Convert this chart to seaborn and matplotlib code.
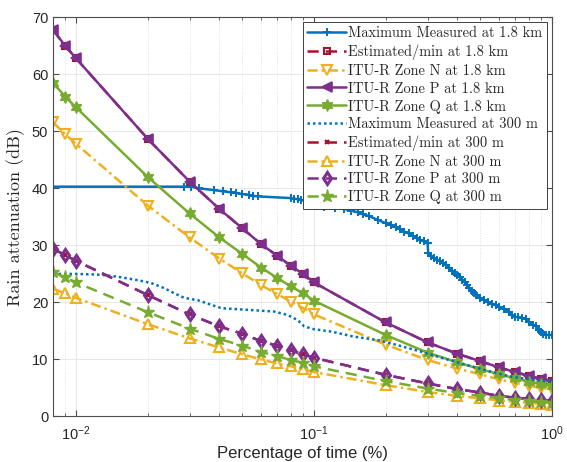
import numpy as np
import pandas as pd
import matplotlib
matplotlib.use("Agg")
import matplotlib.pyplot as plt
import seaborn as sns

# Percentage of time at which the ITU-R / estimated curves are evaluated
p_itu = [0.008, 0.009, 0.01, 0.02, 0.03, 0.04, 0.05, 0.06, 0.07, 0.08, 0.09,
         0.1, 0.2, 0.3, 0.4, 0.5, 0.6, 0.7, 0.8, 0.9, 1.0]

# 1.8 km link (dB)
est_18 = [67.8, 65.0, 62.8, 48.7, 41.2, 36.4, 33.0, 30.2, 28.2, 26.4, 25.0,
          23.5, 16.5, 13.0, 11.0, 9.7, 8.6, 7.8, 7.1, 6.6, 6.3]
zone_n_18 = [51.6, 49.5, 47.8, 37.0, 31.4, 27.7, 25.1, 23.0, 21.5, 20.1, 19.0,
             17.9, 12.6, 9.9, 8.4, 7.4, 6.5, 5.9, 5.4, 5.0, 4.8]
zone_p_18 = [67.8, 65.0, 62.8, 48.7, 41.2, 36.4, 33.0, 30.2, 28.2, 26.4, 25.0,
             23.5, 16.5, 13.0, 11.0, 9.7, 8.6, 7.8, 7.1, 6.6, 6.3]
zone_q_18 = [58.5, 56.1, 54.2, 42.0, 35.6, 31.4, 28.5, 26.1, 24.3, 22.8, 21.6,
             20.3, 14.3, 11.2, 9.5, 8.3, 7.4, 6.7, 6.1, 5.7, 5.4]

# 300 m link (dB)
est_300 = [29.4, 28.3, 27.3, 21.3, 17.9, 15.8, 14.5, 13.2, 12.4, 11.6, 10.9,
           10.3, 7.3, 5.8, 4.8, 4.2, 3.6, 3.3, 3.1, 2.9, 2.8]
zone_n_300 = [22.4, 21.6, 20.8, 16.2, 13.7, 12.1, 10.9, 10.0, 9.3, 8.8, 8.3,
              7.8, 5.5, 4.3, 3.6, 3.2, 2.8, 2.6, 2.4, 2.2, 2.1]
zone_p_300 = [29.4, 28.3, 27.3, 21.3, 17.9, 15.8, 14.5, 13.2, 12.4, 11.6, 10.9,
              10.3, 7.3, 5.8, 4.8, 4.2, 3.6, 3.3, 3.1, 2.9, 2.8]
zone_q_300 = [25.3, 24.4, 23.5, 18.3, 15.4, 13.6, 12.4, 11.3, 10.6, 9.9, 9.4,
              8.8, 6.2, 4.9, 4.1, 3.6, 3.2, 2.9, 2.7, 2.5, 2.4]

# Maximum measured attenuation, 1.8 km
p_meas_18 = [0.0075, 0.0285, 0.0304, 0.033, 0.038, 0.0413, 0.0448, 0.047, 0.050,
             0.0534, 0.0552, 0.058, 0.080, 0.0826, 0.0854, 0.088, 0.094, 0.0985,
             0.102, 0.110, 0.122, 0.134, 0.143, 0.153, 0.160, 0.171, 0.185, 0.20,
             0.21, 0.22, 0.23, 0.24, 0.25, 0.26, 0.27, 0.28, 0.29, 0.30, 0.302,
             0.31, 0.32, 0.33, 0.34, 0.35, 0.36, 0.37, 0.38, 0.39, 0.40, 0.41,
             0.42, 0.43, 0.44, 0.45, 0.46, 0.47, 0.48, 0.50, 0.52, 0.54, 0.56,
             0.58, 0.60, 0.63, 0.66, 0.68, 0.70, 0.72, 0.75, 0.78, 0.80, 0.83,
             0.86, 0.88, 0.90, 0.92, 0.94, 0.97, 1.0]
meas_18 = [40.3, 40.3, 40.3, 40.0, 39.7, 39.5, 39.3, 39.2, 39.0,
           38.9, 38.7, 38.6, 38.3, 38.2, 38.1, 38.0, 37.7, 37.4,
           36.9, 36.7, 36.5, 36.4, 36.1, 35.8, 35.5, 35.1, 34.5, 33.9,
           33.6, 33.2, 32.8, 32.4, 32.1, 31.7, 31.3, 31.0, 30.7, 30.4, 28.6,
           28.1, 27.8, 27.5, 27.2, 26.9, 26.6, 26.1, 25.6, 25.2, 24.8, 24.5,
           24.0, 23.6, 23.0, 22.5, 22.0, 21.6, 21.3, 20.8, 20.4, 20.1, 19.8,
           19.5, 19.2, 18.9, 18.3, 17.8, 17.5, 17.4, 17.3, 17.1, 16.6, 16.1,
           15.8, 15.2, 14.8, 14.4, 14.3, 14.3, 14.3]

# Maximum measured attenuation, 300 m
p_meas_300 = [0.008, 0.010, 0.012, 0.0131, 0.015, 0.0182, 0.0207, 0.0235, 0.0259,
              0.0285, 0.0324, 0.0407, 0.0526, 0.0681, 0.0775, 0.0854, 0.091, 0.1,
              0.118, 0.147, 0.185, 0.225, 0.28, 0.35, 0.44, 0.55, 0.67, 0.81, 1.0]
meas_300 = [25.0, 25.0, 24.9, 24.8, 24.5, 23.9, 23.4, 22.5, 21.6,
            20.8, 20.4, 19.0, 18.7, 18.4, 17.8, 16.9, 15.8, 15.3,
            14.9, 14.0, 13.4, 12.5, 11.4, 10.2, 9.0, 7.9, 7.0, 6.5, 6.1]

labels = ["Maximum Measured at 1.8 km", "Estimated/min at 1.8 km",
          "ITU-R Zone N at 1.8 km", "ITU-R Zone P at 1.8 km",
          "ITU-R Zone Q at 1.8 km", "Maximum Measured at 300 m",
          "Estimated/min at 300 m", "ITU-R Zone N at 300 m",
          "ITU-R Zone P at 300 m", "ITU-R Zone Q at 300 m"]

BLUE = "#0072BD"
RED = "#A2142F"
YELLOW = "#EDB120"
PURPLE = "#7E2F8E"
GREEN = "#77AC30"

DASH = (0, (4.5, 2.8))
DASHDOT = (0, (4.0, 1.6, 1.0, 1.6))
DOT = (0, (1.0, 1.2))
HEXAGRAM = (6, 1, 0)

sns.set_style("ticks")
plt.rcParams["mathtext.fontset"] = "custom"
plt.rcParams["mathtext.rm"] = "Liberation Sans"
plt.rcParams["mathtext.it"] = "Liberation Sans:italic"
plt.rcParams["font.family"] = ["Liberation Sans", "DejaVu Sans"]

fig = plt.figure(figsize=(5.67, 4.62), dpi=100)
ax = fig.add_axes([0.0935, 0.0985, 0.88, 0.864])

series = [
    (p_meas_18, meas_18, BLUE, dict(ls="-", marker="+", ms=6, mew=1.4)),
    (p_itu, est_18, RED, dict(ls=DASH, marker="s", ms=4.5, mfc="none", mew=1.5)),
    (p_itu, zone_n_18, YELLOW, dict(ls=DASHDOT, marker="v", ms=6.5, mfc="none", mew=1.5)),
    (p_itu, zone_p_18, PURPLE, dict(ls="-", marker="<", ms=7.5, mew=1.2)),
    (p_itu, zone_q_18, GREEN, dict(ls="-", marker=HEXAGRAM, ms=8.5, mew=1.0)),
    (p_meas_300, meas_300, BLUE, dict(ls=DOT, marker="None")),
    (p_itu, est_300, RED, dict(ls=DASH, marker="x", ms=3.5, mew=1.5)),
    (p_itu, zone_n_300, YELLOW, dict(ls=DASHDOT, marker="^", ms=6.5, mfc="none", mew=1.5)),
    (p_itu, zone_p_300, PURPLE, dict(ls=DASH, marker="d", ms=6.5, mfc="none", mew=2.2)),
    (p_itu, zone_q_300, GREEN, dict(ls=DASH, marker="*", ms=9.5, mew=1.0)),
]

for (xs, ys, col, style), lab in zip(series, labels):
    df = pd.DataFrame({"p": xs, "att": ys})
    sns.lineplot(data=df, x="p", y="att", ax=ax, label=lab, color=col,
                 estimator=None, sort=False)
    line = ax.lines[-1]
    line.set_linewidth(1.8)
    line.set_linestyle(style["ls"])
    line.set_marker(style["marker"])
    if style["marker"] != "None":
        line.set_markersize(style["ms"])
        line.set_markeredgewidth(style["mew"])
        line.set_markeredgecolor(col)
        line.set_markerfacecolor(style.get("mfc", col))

ax.set_xscale("log")
ax.set_xlim(0.008, 1.0)
ax.set_ylim(0, 70)
ax.set_yticks(np.arange(0, 71, 10))

ax.grid(True, which="major", color="#e3e3e3", lw=0.6)
ax.grid(True, which="minor", axis="x", color="#d6d6d6", lw=0.6, ls=(0, (1, 2)))
ax.set_axisbelow(True)

for s in ax.spines.values():
    s.set_color("#4d4d4d")
    s.set_linewidth(0.8)
ax.tick_params(which="both", direction="in", top=True, right=True,
               colors="#4d4d4d", labelcolor="#262626")
ax.tick_params(which="major", length=4, labelsize=10.5)
ax.tick_params(which="minor", length=2.5)
ax.tick_params(axis="x", pad=6)

ax.set_xlabel("Percentage of time (%)", fontsize=12, color="#262626", labelpad=2)
ax.set_ylabel("Rain attenuation (dB)", fontsize=13, family="cmr10",
              color="#262626", labelpad=5)

leg = ax.legend(loc="upper right", prop={"family": "cmr10", "size": 10.4},
                frameon=True, fancybox=False, framealpha=1.0, edgecolor="#404040",
                borderaxespad=0.35, borderpad=0.3, labelspacing=0.28,
                handlelength=2.7, handletextpad=0.15, numpoints=1)
leg.get_frame().set_linewidth(0.7)

fig.savefig("out.png", dpi=100)
